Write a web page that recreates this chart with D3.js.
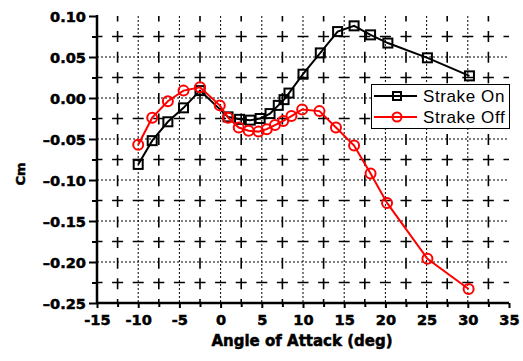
<!DOCTYPE html>
<html>
<head>
<meta charset="utf-8">
<script src="https://cdn.jsdelivr.net/npm/d3@7"></script>
<style>
  html, body { margin: 0; padding: 0; background: #fff; }
  svg { display: block; }
</style>
</head>
<body>
<svg id="chart" width="523" height="361"></svg>
<script>
// Pitching-moment coefficient vs. angle of attack, with and without the strake
const strakeOnAoA = [-10, -8.3, -6.4, -4.5, -2.5, 0.9, 2.3, 3.6, 4.8, 6.0, 7.0, 7.7, 8.3, 10, 12.1, 14.2, 16.2, 18.2, 20.3, 25.1, 30.2];
const strakeOnCm  = [-0.081, -0.052, -0.029, -0.012, 0.009, -0.023, -0.026, -0.027, -0.025, -0.019, -0.009, -0.002, 0.006, 0.029, 0.055, 0.081, 0.088, 0.077, 0.067, 0.049, 0.027];

const strakeOffAoA = [-10, -8.3, -6.4, -4.5, -2.5, -0.1, 0.9, 2.2, 3.4, 4.6, 5.6, 6.6, 7.6, 8.6, 9.9, 12, 14, 16.2, 18.2, 20.2, 25.1, 30.1];
const strakeOffCm  = [-0.057, -0.024, -0.004, 0.009, 0.013, -0.009, -0.024, -0.036, -0.040, -0.041, -0.038, -0.033, -0.028, -0.022, -0.014, -0.016, -0.036, -0.058, -0.092, -0.128, -0.196, -0.233];

const xTicks = [-15, -10, -5, 0, 5, 10, 15, 20, 25, 30, 35];
const yTicks = [0.10, 0.05, 0.00, -0.05, -0.10, -0.15, -0.20, -0.25];
const seriesNames = ["Strake On", "Strake Off"];
const xTitle = "Angle of Attack (deg)";
const yTitle = "Cm";

const BOLD_FONT = "'DejaVu Sans', sans-serif";
const LEGEND_FONT = "'Liberation Sans', Arial, sans-serif";
const svg = d3.select("#chart");
const plotLeft = 97, plotRight = 509, plotTop = 16, plotBottom = 303;

const x = d3.scaleLinear().domain([-15, 35]).range([plotLeft, plotRight]);
const y = d3.scaleLinear().domain([-0.25, 0.10]).range([plotBottom, plotTop]);

// minor positions halfway between labelled ticks
const xMinor = d3.range(-12.5, 35, 5);
const yMinor = d3.range(-0.225, 0.10, 0.05);

const grid = svg.append("g");
// minor grid: long dashes crossing at each half-step
const step = (x(5) - x(0)) / 2;
const dashPattern = `11,${(step - 11).toFixed(2)}`;
grid.selectAll("line.vmin").data(xMinor).join("line")
  .attr("x1", d => x(d)).attr("x2", d => x(d))
  .attr("y1", plotTop).attr("y2", plotBottom)
  .attr("stroke", "#000").attr("stroke-width", 1.6)
  .attr("stroke-dasharray", dashPattern)
  .attr("stroke-dashoffset", 5.5);
grid.selectAll("line.hmin").data(yMinor).join("line")
  .attr("x1", plotLeft).attr("x2", plotRight)
  .attr("y1", d => y(d)).attr("y2", d => y(d))
  .attr("stroke", "#000").attr("stroke-width", 1.6)
  .attr("stroke-dasharray", dashPattern)
  .attr("stroke-dashoffset", 5.5);
// major grid: fine dots
grid.selectAll("line.vmaj").data(xTicks.slice(1, -1)).join("line")
  .attr("x1", d => x(d)).attr("x2", d => x(d))
  .attr("y1", plotTop).attr("y2", plotBottom)
  .attr("stroke", "#000").attr("stroke-width", 1)
  .attr("stroke-dasharray", "2,2");
grid.selectAll("line.hmaj").data(yTicks.slice(1, -1)).join("line")
  .attr("x1", plotLeft).attr("x2", plotRight)
  .attr("y1", d => y(d)).attr("y2", d => y(d))
  .attr("stroke", "#000").attr("stroke-width", 1)
  .attr("stroke-dasharray", "2,2");

// heavy bold lettering for tick labels and titles
function heavyText(sel, size) {
  sel.attr("font-family", BOLD_FONT).attr("font-weight", "bold")
    .attr("font-size", size).attr("fill", "#000")
    .attr("stroke", "#000").attr("stroke-width", 0.5);
}

// axes
const xAxis = d3.axisBottom(x).tickValues(xTicks).tickSize(5).tickFormat(d => String(d));
const gx = svg.append("g").attr("transform", `translate(0,${plotBottom})`).call(xAxis);
gx.attr("font-size", null).attr("font-family", null);
gx.select(".domain").attr("stroke-width", 2.5).attr("d", `M${plotLeft},0H${plotRight}`);
gx.selectAll(".tick line").attr("stroke-width", 2);
gx.selectAll(".tick text").attr("y", 8).attr("dy", "0.95em").call(heavyText, 14.6);
const gxMinor = svg.append("g").attr("transform", `translate(0,${plotBottom})`)
  .call(d3.axisBottom(x).tickValues(xMinor).tickSize(4).tickFormat(""));
gxMinor.select(".domain").remove();
gxMinor.selectAll(".tick line").attr("stroke-width", 2);

const yAxis = d3.axisLeft(y).tickValues(yTicks).tickSize(8)
  .tickFormat(d => d3.format(".2f")(d).replace("−", "–").replace("-", "–"));
const gy = svg.append("g").attr("transform", `translate(${plotLeft},0)`).call(yAxis);
gy.attr("font-size", null).attr("font-family", null);
gy.select(".domain").attr("stroke-width", 2.5).attr("d", `M0,${plotTop - 1}V${plotBottom}`);
gy.selectAll(".tick line").attr("stroke-width", 2);
gy.selectAll(".tick text").attr("x", -11).attr("dy", "0.36em").call(heavyText, 14.6);
const gyMinor = svg.append("g").attr("transform", `translate(${plotLeft},0)`)
  .call(d3.axisLeft(y).tickValues(yMinor).tickSize(5).tickFormat(""));
gyMinor.select(".domain").remove();
gyMinor.selectAll(".tick line").attr("stroke-width", 2);

// titles
svg.append("text").call(heavyText, 15)
  .attr("x", 302).attr("y", 346).attr("text-anchor", "middle").text(xTitle);
svg.append("text").call(heavyText, 13)
  .attr("transform", "translate(25,174) rotate(-90)")
  .attr("text-anchor", "middle").text(yTitle);

// series
const line = d3.line().x(d => x(d[0])).y(d => y(d[1]));
const onPts = strakeOnAoA.map((a, i) => [a, strakeOnCm[i]]);
const offPts = strakeOffAoA.map((a, i) => [a, strakeOffCm[i]]);

svg.append("path").datum(onPts).attr("d", line)
  .attr("fill", "none").attr("stroke", "#000").attr("stroke-width", 2);
svg.append("g").selectAll("rect").data(onPts).join("rect")
  .attr("x", d => x(d[0]) - 4.5).attr("y", d => y(d[1]) - 4.5)
  .attr("width", 9).attr("height", 9)
  .attr("fill", "none").attr("stroke", "#000").attr("stroke-width", 2);

svg.append("path").datum(offPts).attr("d", line)
  .attr("fill", "none").attr("stroke", "#ff0000").attr("stroke-width", 2);
svg.append("g").selectAll("circle").data(offPts).join("circle")
  .attr("cx", d => x(d[0])).attr("cy", d => y(d[1])).attr("r", 5)
  .attr("fill", "none").attr("stroke", "#ff0000").attr("stroke-width", 2);

// legend
const lg = svg.append("g");
lg.append("rect").attr("x", 371.5).attr("y", 84.5).attr("width", 138).attr("height", 44)
  .attr("fill", "#fff").attr("stroke", "#000").attr("stroke-width", 1);
const rows = [
  { name: seriesNames[0], color: "#000", shape: "square", cy: 96 },
  { name: seriesNames[1], color: "#ff0000", shape: "circle", cy: 117 }
];
rows.forEach(r => {
  lg.append("line").attr("x1", 374).attr("x2", 417).attr("y1", r.cy).attr("y2", r.cy)
    .attr("stroke", r.color).attr("stroke-width", 2);
  if (r.shape === "square") {
    lg.append("rect").attr("x", 393).attr("y", r.cy - 4).attr("width", 8).attr("height", 8)
      .attr("fill", "none").attr("stroke", r.color).attr("stroke-width", 2);
  } else {
    lg.append("circle").attr("cx", 397).attr("cy", r.cy).attr("r", 4.5)
      .attr("fill", "none").attr("stroke", r.color).attr("stroke-width", 2);
  }
  lg.append("text").attr("font-family", LEGEND_FONT).attr("font-size", 17).attr("letter-spacing", 0.6)
    .attr("fill", "#000").attr("x", 423).attr("y", r.cy + 6).text(r.name);
});
</script>
</body>
</html>
